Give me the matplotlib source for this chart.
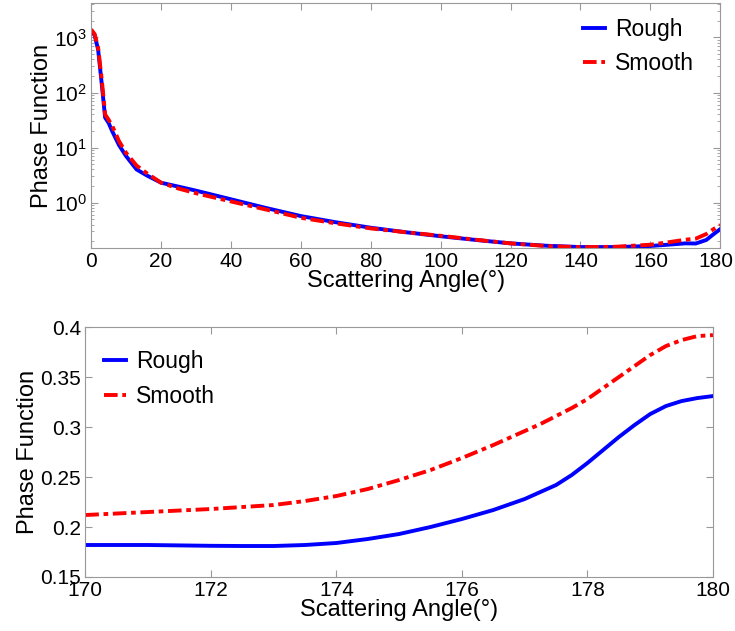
import numpy as np
import matplotlib
matplotlib.use("Agg")
import matplotlib.pyplot as plt
from matplotlib.transforms import ScaledTranslation

plt.rcParams['font.family'] = ['Liberation Sans', 'DejaVu Sans']

# full range (top panel)
ang_full = [0, 1, 2, 3, 4, 5, 6, 8, 10, 13, 16, 20, 25, 30, 40, 50, 60, 70, 80,
            90, 100, 110, 120, 130, 140, 150, 160, 165, 170, 173, 176, 178, 180]
rough_full = [1300, 1100, 600, 150, 35, 28, 20, 11, 7.0, 4.0, 3.1, 2.3, 1.95, 1.65,
              1.15, 0.8, 0.57, 0.44, 0.35, 0.29, 0.245, 0.21, 0.182, 0.165, 0.156,
              0.156, 0.163, 0.172, 0.182, 0.181, 0.21, 0.265, 0.331]
smooth_full = [1400, 1150, 650, 180, 40, 32, 25, 13, 8.0, 4.7, 3.4, 2.3, 1.8, 1.48,
               1.05, 0.75, 0.53, 0.42, 0.34, 0.29, 0.25, 0.212, 0.182, 0.163, 0.155,
               0.158, 0.172, 0.19, 0.212, 0.222, 0.269, 0.328, 0.392]

# backscatter zoom (bottom panel)
ang_back = [170, 171, 172, 172.5, 173, 173.5, 174, 174.5, 175, 175.5, 176, 176.5,
            177, 177.25, 177.5, 177.75, 178, 178.25, 178.5, 178.75, 179, 179.25,
            179.5, 179.75, 180]
rough_back = [0.182, 0.182, 0.1812, 0.181, 0.181, 0.182, 0.184, 0.188, 0.193, 0.2,
              0.208, 0.217, 0.228, 0.235, 0.242, 0.252, 0.264, 0.277, 0.29, 0.302,
              0.313, 0.321, 0.326, 0.329, 0.331]
smooth_back = [0.212, 0.215, 0.218, 0.220, 0.222, 0.226, 0.231, 0.238, 0.247, 0.257,
               0.269, 0.282, 0.296, 0.303, 0.311, 0.319, 0.328, 0.339, 0.35, 0.361,
               0.372, 0.381, 0.387, 0.391, 0.392]

fig = plt.figure(figsize=(7.35, 6.31), dpi=100)
ax1 = fig.add_axes([0.124, 0.607, 0.856, 0.388])
ax2 = fig.add_axes([0.116, 0.0856, 0.854, 0.396])

dashdot = (0, (3.5, 1.2, 1.2, 1.2))

for ax in (ax1, ax2):
    for s in ax.spines.values():
        s.set_color('#999999')
    ax.tick_params(direction='in', top=True, right=True, labelsize=15,
                   color='#999999', length=5, pad=3)
    ax.tick_params(which='minor', direction='in', right=True, color='#999999')

leg_kw = dict(frameon=False, fontsize=16.5, handlelength=0.95,
              handletextpad=0.45, borderpad=0, borderaxespad=0)

ax1.semilogy(ang_full, rough_full, color='#0000ff', lw=2.8, label='Rough')
ax1.semilogy(ang_full, smooth_full, color='#ff0000', lw=2.8, ls=dashdot, label='Smooth')
ax1.set_xlim(0, 180)
ax1.set_ylim(0.15, 4200)
ax1.set_xticks(range(0, 181, 20))
ax1.set_yticks([1, 10, 100, 1000])
ax1.set_ylabel('Phase Function', fontsize=17, labelpad=1)
ax1.set_xlabel('Scattering Angle(°)', fontsize=17, labelpad=-1)
ax1.legend(loc='upper left', bbox_to_anchor=(0.782, 0.94), **leg_kw)

# nudge the last tick label so it stays inside the figure
fig.canvas.draw()
last = ax1.get_xticklabels()[-1]
last.set_transform(last.get_transform() + ScaledTranslation(-3 / 72, 0, fig.dpi_scale_trans))

ax2.plot(ang_back, rough_back, color='#0000ff', lw=2.8, label='Rough')
ax2.plot(ang_back, smooth_back, color='#ff0000', lw=2.8, ls=dashdot, label='Smooth')
ax2.set_xlim(170, 180)
ax2.set_ylim(0.15, 0.4)
ax2.set_xticks(range(170, 181, 2))
ax2.set_yticks([0.15, 0.2, 0.25, 0.3, 0.35, 0.4])
ax2.set_yticklabels(['0.15', '0.2', '0.25', '0.3', '0.35', '0.4'])
ax2.set_ylabel('Phase Function', fontsize=17, labelpad=1)
ax2.set_xlabel('Scattering Angle(°)', fontsize=17, labelpad=-1)
ax2.legend(loc='upper left', bbox_to_anchor=(0.03, 0.908), **leg_kw)

fig.savefig('out.png', dpi=100)
